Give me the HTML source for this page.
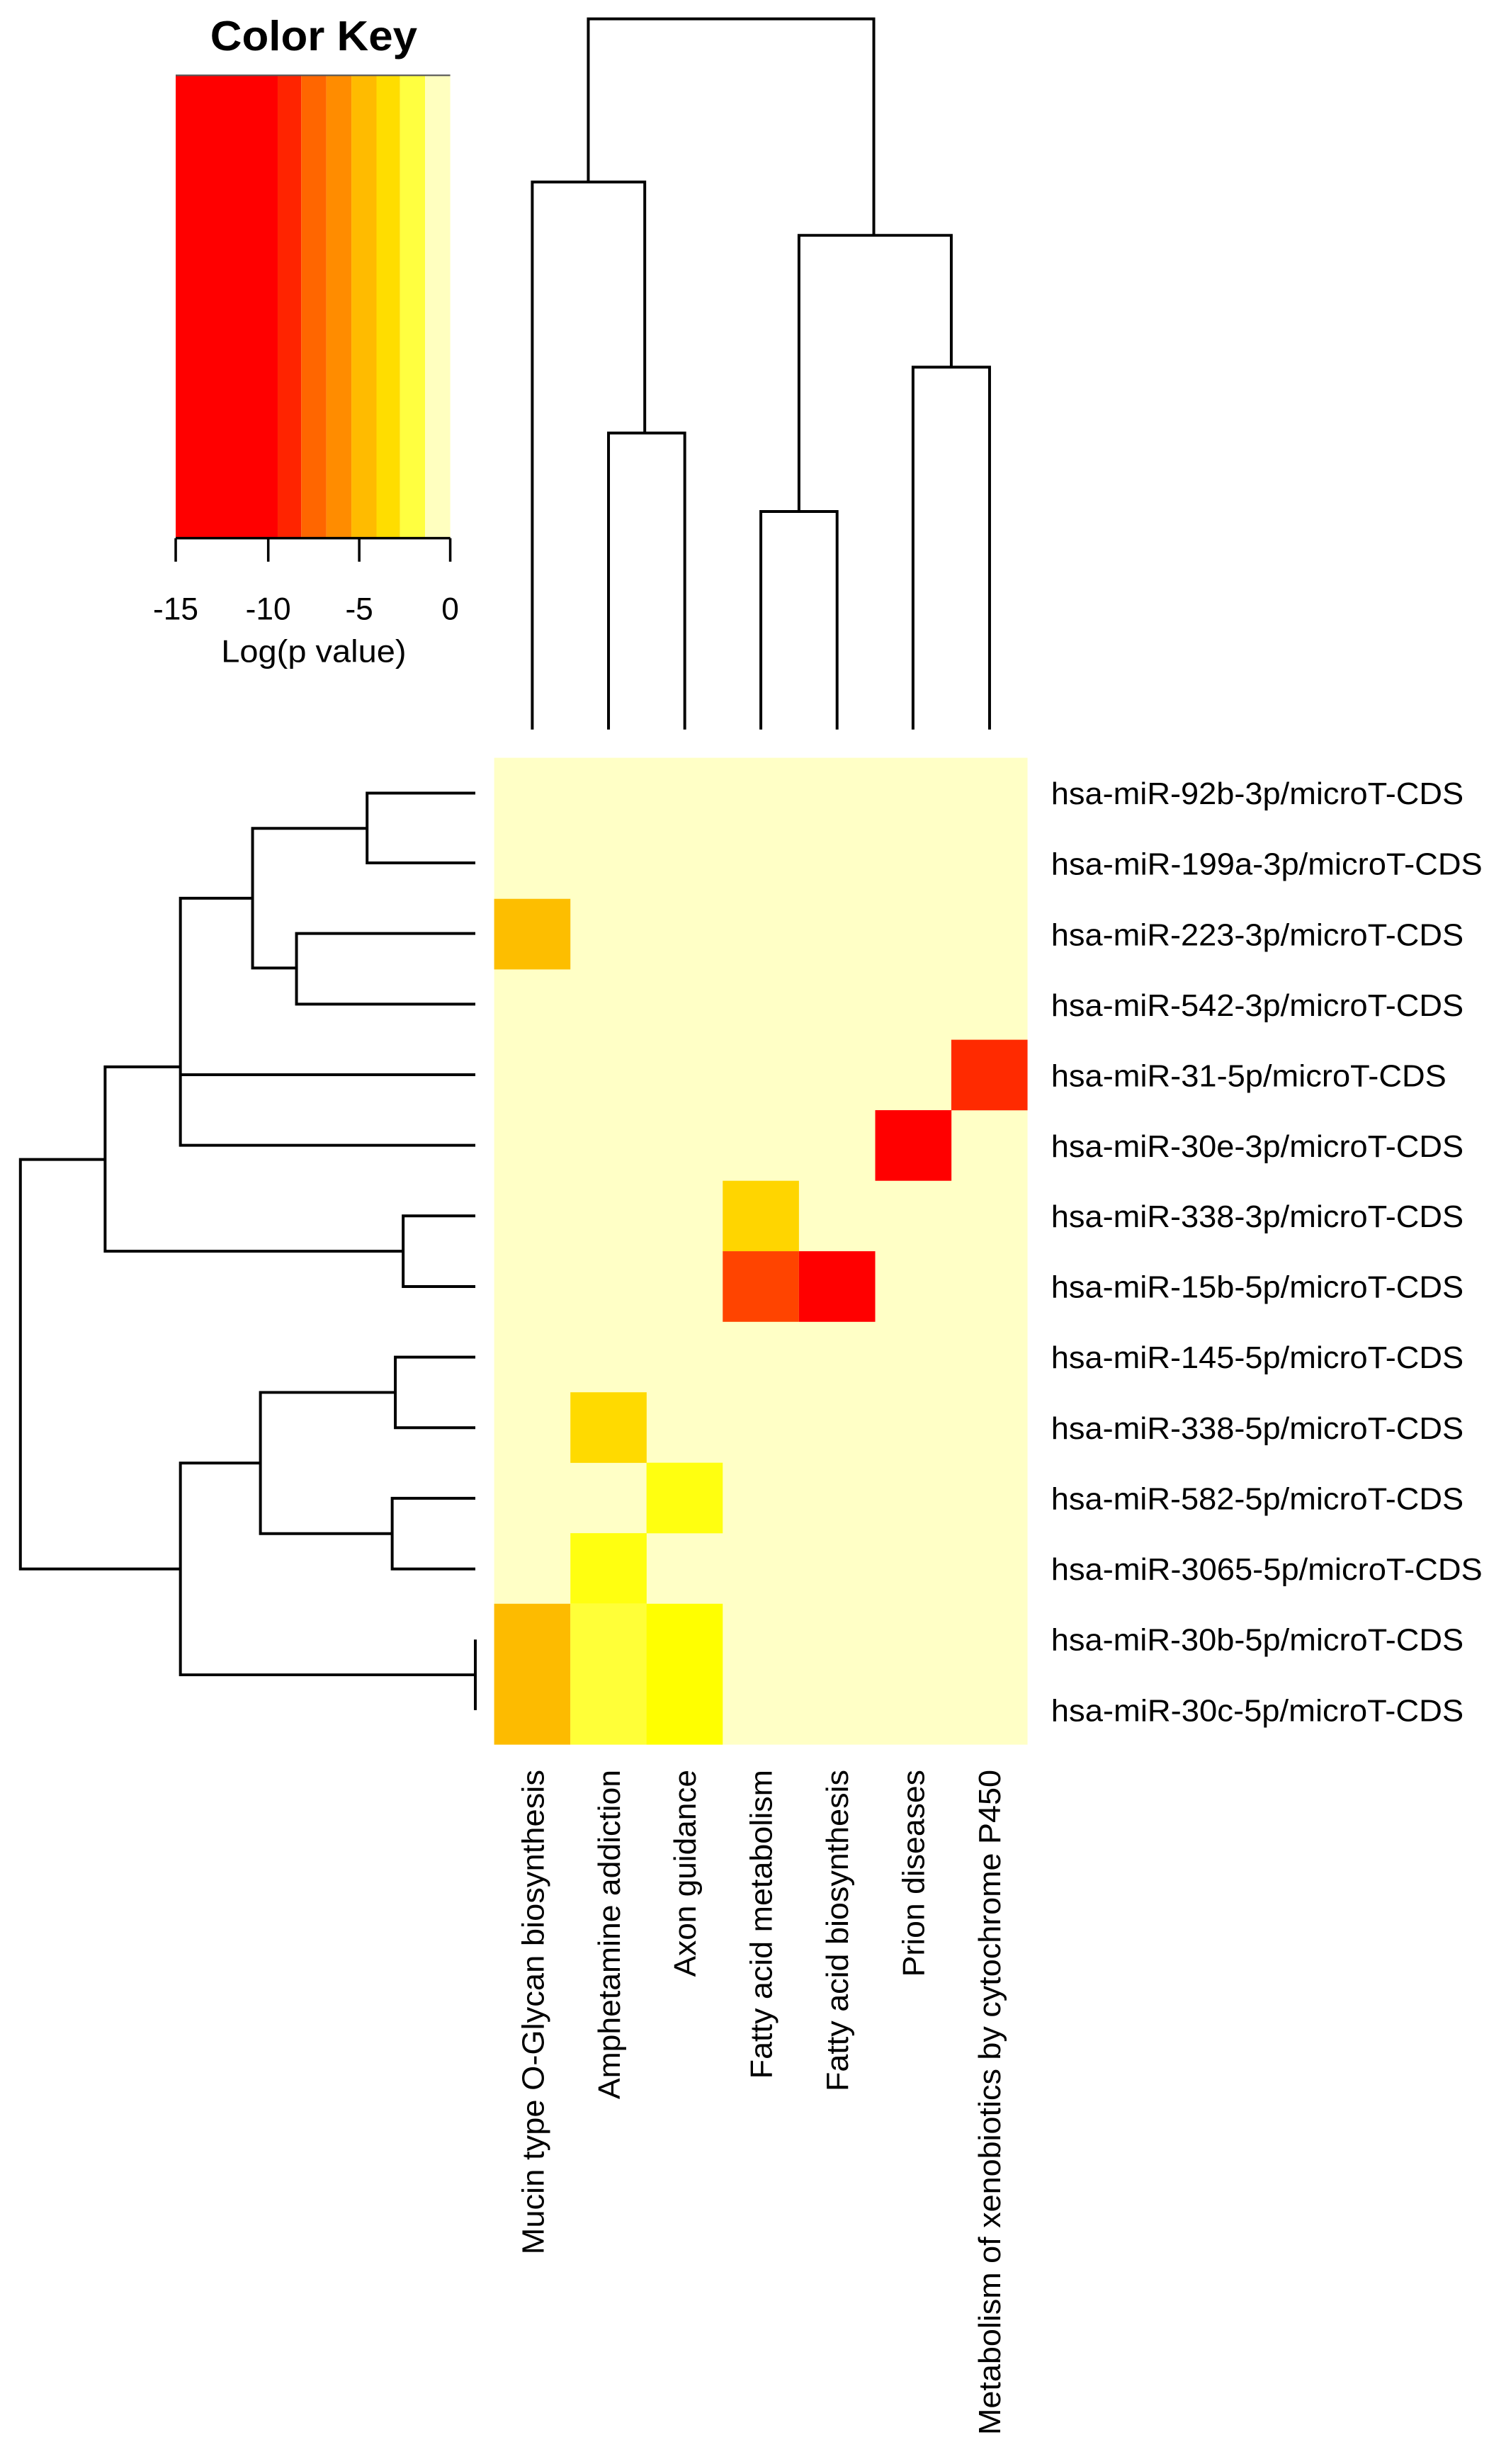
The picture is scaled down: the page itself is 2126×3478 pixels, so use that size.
<!DOCTYPE html>
<html><head><meta charset="utf-8"><style>
html,body{margin:0;padding:0;background:#fff;}
svg{display:block;}
text{font-family:"Liberation Sans",Arial,sans-serif;fill:#000;}
</style></head><body>
<svg width="2126" height="3478" viewBox="0 0 960 1570.5" preserveAspectRatio="none" xmlns="http://www.w3.org/2000/svg">
<!-- Color key -->
<text x="200" y="32" font-size="27" font-weight="bold" text-anchor="middle" textLength="132" lengthAdjust="spacingAndGlyphs">Color Key</text>
<rect x="112" y="48" width="65" height="295" fill="#FF0000"/>
<rect x="177" y="48" width="15" height="295" fill="#FF2400"/>
<rect x="192" y="48" width="16" height="295" fill="#FF6600"/>
<rect x="208" y="48" width="16" height="295" fill="#FF8C00"/>
<rect x="224" y="48" width="16" height="295" fill="#FFBB00"/>
<rect x="240" y="48" width="15" height="295" fill="#FFDD00"/>
<rect x="255" y="48" width="16" height="295" fill="#FFFF40"/>
<rect x="271" y="48" width="16" height="295" fill="#FFFFBF"/>
<line x1="112" y1="48" x2="287" y2="48" stroke="#555" stroke-width="1"/>
<g stroke="#000" stroke-width="1.6" fill="none">
<line x1="112" y1="343" x2="287" y2="343"/>
<line x1="112" y1="343" x2="112" y2="358"/>
<line x1="171" y1="343" x2="171" y2="358"/>
<line x1="229" y1="343" x2="229" y2="358"/>
<line x1="287" y1="343" x2="287" y2="358"/>
</g>
<g font-size="20" text-anchor="middle">
<text x="112" y="395">-15</text>
<text x="171" y="395">-10</text>
<text x="229" y="395">-5</text>
<text x="287" y="395">0</text>
<text x="200" y="422" textLength="118" lengthAdjust="spacingAndGlyphs">Log(p value)</text>
</g>
<!-- Column dendrogram -->
<g stroke="#000" stroke-width="1.8" fill="none">
<path d="M339.3,465 V116 H411 V276"/>
<path d="M387.9,465 V276 H436.5 V465"/>
<path d="M485,465 V326 H533.6 V465"/>
<path d="M582,465 V234 H630.8 V465"/>
<path d="M509.3,326 V150 H606.4 V234"/>
<path d="M375,116 V12 H557 V150"/>
</g>
<!-- Heatmap -->
<rect x="315" y="483" width="340" height="629" fill="#FFFFC6"/>
<g>
<rect x="315" y="572.9" width="48.6" height="45" fill="#FDBE00"/>
<rect x="606.4" y="662.7" width="48.6" height="45" fill="#FF2A00"/>
<rect x="557.9" y="707.6" width="48.6" height="45" fill="#FF0000"/>
<rect x="460.7" y="752.6" width="48.6" height="45" fill="#FFD500"/>
<rect x="460.7" y="797.5" width="48.6" height="45" fill="#FF4400"/>
<rect x="509.3" y="797.5" width="48.6" height="45" fill="#FF0000"/>
<rect x="363.6" y="887.4" width="48.6" height="45" fill="#FFDA00"/>
<rect x="412.1" y="932.3" width="48.6" height="45" fill="#FFFF10"/>
<rect x="363.6" y="977.2" width="48.6" height="45" fill="#FFFF10"/>
<rect x="315" y="1022.2" width="48.6" height="89.8" fill="#FDBB00"/>
<rect x="363.6" y="1022.2" width="48.6" height="89.8" fill="#FFFF38"/>
<rect x="412.1" y="1022.2" width="48.6" height="89.8" fill="#FFFF00"/>
</g>
<!-- Row dendrogram -->
<g stroke="#000" stroke-width="1.8" fill="none">
<path d="M303,505.5 H234 V550 H303"/>
<path d="M303,595 H189 V640 H303"/>
<path d="M234,528 H161 V617 H189"/>
<path d="M161,572.5 H115 V730 H303"/>
<path d="M115,685 H303"/>
<path d="M303,775 H257 V820 H303"/>
<path d="M115,680 H67 V797.5 H257"/>
<path d="M303,865 H252 V910 H303"/>
<path d="M303,955 H250 V1000 H303"/>
<path d="M252,887.5 H166 V977.5 H250"/>
<path d="M303,1045 V1090"/>
<path d="M166,932.5 H115 V1067.5 H303"/>
<path d="M67,739 H13 V1000 H115"/>
</g>
<!-- Row labels -->
<g font-size="19.5">
<text x="670" y="512.5" textLength="263" lengthAdjust="spacingAndGlyphs">hsa-miR-92b-3p/microT-CDS</text>
<text x="670" y="557.5" textLength="275" lengthAdjust="spacingAndGlyphs">hsa-miR-199a-3p/microT-CDS</text>
<text x="670" y="602.5" textLength="263" lengthAdjust="spacingAndGlyphs">hsa-miR-223-3p/microT-CDS</text>
<text x="670" y="647.5" textLength="263" lengthAdjust="spacingAndGlyphs">hsa-miR-542-3p/microT-CDS</text>
<text x="670" y="692.5" textLength="252" lengthAdjust="spacingAndGlyphs">hsa-miR-31-5p/microT-CDS</text>
<text x="670" y="737.5" textLength="263" lengthAdjust="spacingAndGlyphs">hsa-miR-30e-3p/microT-CDS</text>
<text x="670" y="782" textLength="263" lengthAdjust="spacingAndGlyphs">hsa-miR-338-3p/microT-CDS</text>
<text x="670" y="827" textLength="263" lengthAdjust="spacingAndGlyphs">hsa-miR-15b-5p/microT-CDS</text>
<text x="670" y="872" textLength="263" lengthAdjust="spacingAndGlyphs">hsa-miR-145-5p/microT-CDS</text>
<text x="670" y="917" textLength="263" lengthAdjust="spacingAndGlyphs">hsa-miR-338-5p/microT-CDS</text>
<text x="670" y="962" textLength="263" lengthAdjust="spacingAndGlyphs">hsa-miR-582-5p/microT-CDS</text>
<text x="670" y="1007" textLength="275" lengthAdjust="spacingAndGlyphs">hsa-miR-3065-5p/microT-CDS</text>
<text x="670" y="1052" textLength="263" lengthAdjust="spacingAndGlyphs">hsa-miR-30b-5p/microT-CDS</text>
<text x="670" y="1097" textLength="263" lengthAdjust="spacingAndGlyphs">hsa-miR-30c-5p/microT-CDS</text>
</g>
<!-- Column labels -->
<g font-size="19.5" text-anchor="end">
<text transform="translate(346.5,1128) rotate(-90)" textLength="309" lengthAdjust="spacingAndGlyphs">Mucin type O-Glycan biosynthesis</text>
<text transform="translate(395,1128) rotate(-90)" textLength="210" lengthAdjust="spacingAndGlyphs">Amphetamine addiction</text>
<text transform="translate(443.5,1128) rotate(-90)" textLength="132" lengthAdjust="spacingAndGlyphs">Axon guidance</text>
<text transform="translate(492,1128) rotate(-90)" textLength="197" lengthAdjust="spacingAndGlyphs">Fatty acid metabolism</text>
<text transform="translate(540.5,1128) rotate(-90)" textLength="205" lengthAdjust="spacingAndGlyphs">Fatty acid biosynthesis</text>
<text transform="translate(589,1128) rotate(-90)" textLength="132" lengthAdjust="spacingAndGlyphs">Prion diseases</text>
<text transform="translate(637.5,1128) rotate(-90)" textLength="424" lengthAdjust="spacingAndGlyphs">Metabolism of xenobiotics by cytochrome P450</text>
</g>
</svg>
</body></html>
